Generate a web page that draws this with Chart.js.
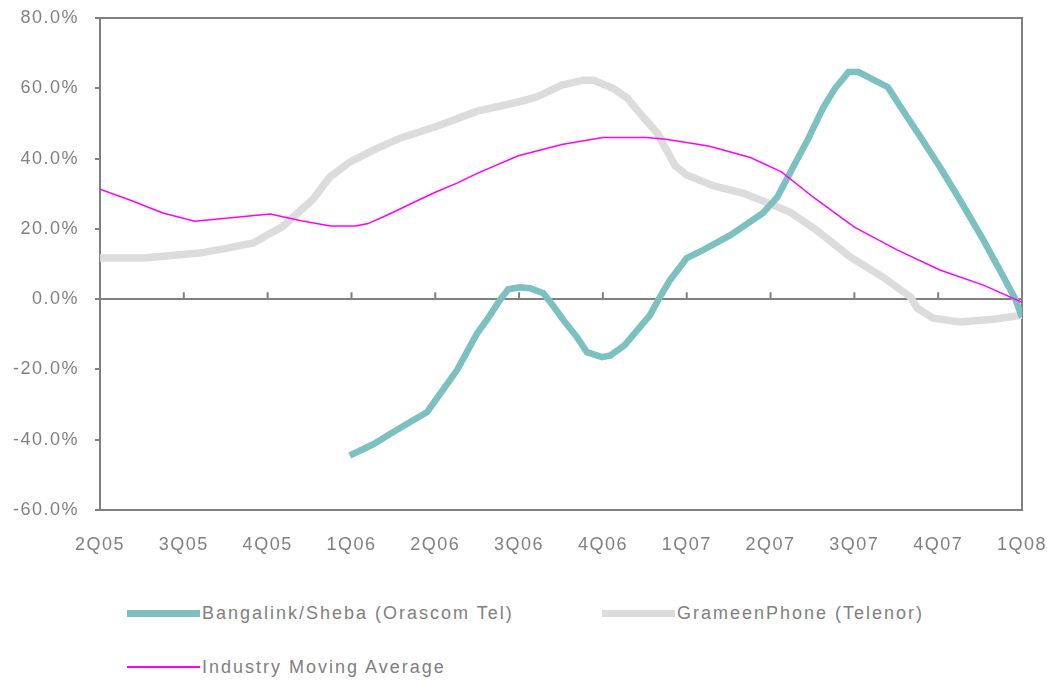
<!DOCTYPE html>
<html>
<head>
<meta charset="utf-8">
<script src="https://cdn.jsdelivr.net/npm/chart.js@4.4.1/dist/chart.umd.min.js"></script>
<style>
body { margin: 0; background: #fff; font-family: "Liberation Sans", Arial, sans-serif; }
#wrap { position: relative; width: 1064px; height: 680px; }
#chart { position: absolute; left: 0; top: 0; }
.leg { position: absolute; height: 24px; display: flex; align-items: center; color: #808080; font-size: 18px; letter-spacing: 2px; white-space: nowrap; }
.leg .s { display: inline-block; width: 73px; margin-right: 2px; }
</style>
</head>
<body>
<div id="wrap">
    <canvas id="chart" width="1064" height="570"></canvas>
    <div id="legend"></div>
</div>
<script>
let quarters = ['2Q05', '3Q05', '4Q05', '1Q06', '2Q06', '3Q06', '4Q06', '1Q07', '2Q07', '3Q07', '4Q07', '1Q08'];
let y_ticks = [-60, -40, -20, 0, 20, 40, 60, 80];

// Bangalink/Sheba (Orascom Tel), positions in quarters from 2Q05
let bang_x = [2.98, 3.26, 3.5, 3.74, 3.9, 4.02, 4.26, 4.5, 4.63, 4.77, 4.87, 5.01, 5.13, 5.29, 5.39, 5.53, 5.69, 5.81, 5.99, 6.09, 6.26, 6.41, 6.56, 6.68, 6.8, 7.0, 7.2, 7.52, 7.91, 8.08, 8.27, 8.44, 8.63, 8.77, 8.93, 9.05, 9.4, 9.63, 9.79, 10.02, 10.26, 10.54, 10.78, 10.92, 11.0];
let bang_y = [-44.5, -41.3, -37.8, -34.4, -32.2, -28.2, -20.2, -9.7, -5.4, -0.3, 2.8, 3.4, 3.1, 1.7, -1.4, -6, -10.8, -15.1, -16.5, -16, -13.1, -8.8, -4.6, 0.6, 5.4, 11.7, 14, 18.2, 24.5, 29, 37.6, 45.2, 54.6, 60, 64.6, 64.6, 60.3, 51.8, 46.1, 37.6, 28.2, 16.8, 6.3, 0, -5.1];

// GrameenPhone (Telenor)
let gp_x = [0, 0.52, 1.19, 1.52, 1.83, 1.99, 2.17, 2.54, 2.74, 2.98, 3.26, 3.58, 4.02, 4.5, 4.99, 5.21, 5.51, 5.77, 5.89, 6.12, 6.29, 6.48, 6.65, 6.86, 7.0, 7.32, 7.67, 7.88, 8.23, 8.55, 8.95, 9.34, 9.67, 9.75, 9.94, 10.26, 10.66, 11];
let gp_y = [11.7, 11.7, 13.1, 14.5, 16, 18.2, 20.5, 28.4, 34.7, 39, 42.4, 45.8, 49.2, 53.5, 56.1, 57.5, 60.9, 62.3, 62.3, 60, 57.2, 51.8, 47.2, 38, 35.3, 32.2, 30.2, 28.2, 24.8, 19.6, 12, 6.3, 0.6, -2.6, -5.4, -6.5, -5.7, -4.6];

// Industry Moving Average
let avg_x = [0, 0.38, 0.75, 1.13, 1.5, 2.03, 2.4, 2.75, 3.05, 3.2, 3.46, 3.74, 4.0, 4.26, 4.5, 4.99, 5.51, 6.0, 6.52, 6.75, 7.26, 7.76, 8.13, 8.51, 9.0, 9.51, 10.02, 10.54, 11];
let avg_y = [31.3, 28.0, 24.5, 22.2, 23.0, 24.2, 22.3, 20.8, 20.8, 21.5, 24.3, 27.5, 30.4, 33, 35.8, 40.8, 44, 46, 46, 45.5, 43.6, 40.3, 36.2, 29, 20.5, 14, 8.3, 4, -0.9];

let series_names = ['Bangalink/Sheba (Orascom Tel)', 'GrameenPhone (Telenor)', 'Industry Moving Average'];
let series_colors = ['#7cc0c0', '#dcdcdc', '#ff00ff'];

function points(xs, ys) {
    return xs.map((x, i) => ({ x: x, y: ys[i] }));
}

let frame = {
    id: 'frame',
    afterInit(c) { c.ctx.letterSpacing = '1.5px'; },
    beforeDraw(c) { c.ctx.letterSpacing = '1.5px'; },
    beforeDatasetsDraw(c) {
        let a = c.chartArea, ctx = c.ctx, x = c.scales.x, y = c.scales.y;
        ctx.save();
        ctx.strokeStyle = '#808080';
        ctx.lineWidth = 2;
        ctx.strokeRect(a.left, a.top, a.right - a.left, a.bottom - a.top);
        let y0 = y.getPixelForValue(0);
        ctx.beginPath();
        for (let i = 0; i < quarters.length; i++) {
            let px = x.getPixelForValue(i);
            ctx.moveTo(px, y0);
            ctx.lineTo(px, y0 - 7);
        }
        ctx.stroke();
        ctx.restore();
    }
};

let chart = new Chart(document.getElementById('chart'), {
    type: 'line',
    data: {
        datasets: [
            { label: series_names[0], data: points(bang_x, bang_y), borderColor: series_colors[0], borderWidth: 6.5, order: 1 },
            { label: series_names[1], data: points(gp_x, gp_y), borderColor: series_colors[1], borderWidth: 7.5, order: 2 },
            { label: series_names[2], data: points(avg_x, avg_y), borderColor: series_colors[2], borderWidth: 1.5, order: 0 }
        ]
    },
    options: {
        responsive: false,
        animation: false,
        devicePixelRatio: 1,
        elements: { point: { radius: 0 }, line: { tension: 0, borderCapStyle: 'butt' } },
        layout: { padding: { top: 18, right: 42, left: 0, bottom: 0 } },
        plugins: { legend: { display: false }, tooltip: { enabled: false } },
        scales: {
            x: {
                type: 'linear',
                min: 0,
                max: quarters.length - 1,
                afterFit: s => { s.height = 60; s.paddingLeft = 0; s.paddingRight = 0; },
                afterBuildTicks: s => { s.ticks = quarters.map((q, i) => ({ value: i })); },
                ticks: {
                    callback: v => quarters[v],
                    color: '#808080',
                    font: { family: 'Liberation Sans', size: 18 },
                    padding: 24,
                    maxRotation: 0,
                    autoSkip: false
                },
                grid: { drawOnChartArea: false, drawTicks: false },
                border: { display: false }
            },
            y: {
                min: y_ticks[0],
                max: y_ticks[y_ticks.length - 1],
                afterFit: s => { s.width = 100; s.paddingTop = 0; s.paddingBottom = 0; },
                afterBuildTicks: s => { s.ticks = y_ticks.map(v => ({ value: v })); },
                ticks: {
                    callback: v => v.toFixed(1) + '%',
                    color: '#808080',
                    font: { family: 'Liberation Sans', size: 18 },
                    padding: 16
                },
                grid: {
                    drawOnChartArea: true,
                    color: ctx => ctx.tick && ctx.tick.value === 0 ? '#808080' : 'rgba(0,0,0,0)',
                    lineWidth: 2,
                    tickColor: '#808080',
                    tickLength: 5
                },
                border: { display: false }
            }
        }
    },
    plugins: [frame]
});

// legend below the chart
let leg_pos = [[127, 601], [602, 601], [127, 655]];
let leg_h = [7, 7, 2];
let html = '';
for (let i = 0; i < series_names.length; i++) {
    html += '<div class="leg" style="left:' + leg_pos[i][0] + 'px;top:' + leg_pos[i][1] + 'px">' +
        '<span class="s" style="height:' + leg_h[i] + 'px;background:' + series_colors[i] + '"></span>' +
        series_names[i] + '</div>';
}
document.getElementById('legend').innerHTML = html;
</script>
</body>
</html>
